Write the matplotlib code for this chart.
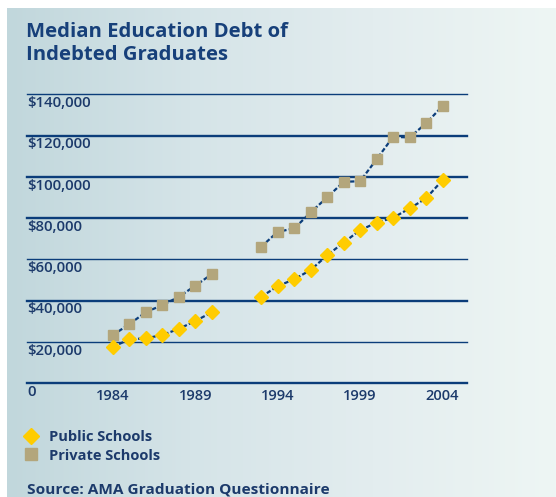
import numpy as np
import matplotlib
matplotlib.use("Agg")
import matplotlib.pyplot as plt
import matplotlib.transforms as mtransforms
from matplotlib.lines import Line2D
from matplotlib.colors import LinearSegmentedColormap

# ---- data ----
years = [1984, 1985, 1986, 1987, 1988, 1989, 1990, 1991, 1992,
         1993, 1994, 1995, 1996, 1997, 1998, 1999, 2000, 2001, 2002, 2003, 2004]
public = [17700, 21300, 21800, 23400, 26400, 30200, 34400, np.nan, np.nan,
          41900, 47100, 50400, 54900, 62000, 68200, 74200, 77800, 80200, 84700, 89600, 98400]
private = [23400, 28700, 34500, 37900, 41900, 47300, 52900, np.nan, np.nan,
           66200, 73400, 75000, 82800, 90100, 97600, 97900, 108500, 119400, 119100, 125900, 134300]
y_ticks = [0, 20000, 40000, 60000, 80000, 100000, 120000, 140000]
y_labels = ["0", "$20,000", "$40,000", "$60,000", "$80,000", "$100,000", "$120,000", "$140,000"]
x_ticks = [1984, 1989, 1994, 1999, 2004]
series_names = ["Public Schools", "Private Schools"]
title = "Median Education Debt of\nIndebted Graduates"
source = "Source: AMA Graduation Questionnaire"

# ---- style ----
W, H = 556, 497
NAVY = "#0b3d7a"
TEXT = "#1c3a6b"
TITLE = "#17407a"
GOLD = "#ffcc00"
KHAKI = "#b3a67c"
FONT = "Open Sans"

fig = plt.figure(figsize=(W / 100, H / 100), dpi=100)
fig.patch.set_facecolor("white")

# background gradient panel
bg = fig.add_axes([7 / W, 0, (W - 7) / W, (H - 8) / H], zorder=-10)
cmap = LinearSegmentedColormap.from_list("bg", ["#c1d7dc", "#d5e4e8", "#e3edef", "#eef6f4"])
grad = np.linspace(0, 1, 256).reshape(1, -1)
bg.imshow(grad, aspect="auto", cmap=cmap, extent=[0, 1, 0, 1])
bg.set_axis_off()

# main axes
left_px, right_px = 26.5, 467
y0_px, y140_px = 383.3, 94.3
ax = fig.add_axes([left_px / W, (H - y0_px) / H, (right_px - left_px) / W, (y0_px - y140_px) / H])
ax.patch.set_alpha(0)
ax.set_ylim(0, 140000)
px_per_year = (442.5 - 113) / 20
ax.set_xlim(1984 - (113 - left_px) / px_per_year, 2004 + (right_px - 442.5) / px_per_year)
for s in ax.spines.values():
    s.set_visible(False)

widths = [1.7, 1.0, 1.7, 1.0, 1.7, 1.7, 1.7, 1.0]
for v, lw in zip(y_ticks, widths):
    ax.axhline(v, color=NAVY, lw=lw, clip_on=False, zorder=1)

trans = mtransforms.blended_transform_factory(ax.transAxes, ax.transData)
off = mtransforms.ScaledTranslation(0.5 / 72, -1.2 / 72, fig.dpi_scale_trans)
for v, lab in zip(y_ticks, y_labels):
    ax.text(0.0, v, lab, transform=trans + off, ha="left", va="top",
            fontsize=10.8, fontweight="semibold", color=TEXT, family=FONT, zorder=2)

ax.set_yticks([])
ax.set_xticks(x_ticks)
ax.set_xticklabels([str(x) for x in x_ticks], fontsize=10.5, color=TEXT, family=FONT,
                   fontweight="semibold")
ax.tick_params(axis="x", length=0, pad=4)

ax.plot(years, private, color=NAVY, lw=1.6, ls=(0, (2, 1)), marker="s", ms=7.5,
        mfc=KHAKI, mec=KHAKI, zorder=3, clip_on=False)
ax.plot(years, public, color=NAVY, lw=1.6, ls=(0, (2, 1)), marker="D", ms=7.3,
        mfc=GOLD, mec=GOLD, zorder=4, clip_on=False)

# title
fig.text(26 / W, 1 - 43.5 / H, title, ha="left", va="center", fontsize=14.6,
         fontweight="bold", color=TITLE, family=FONT, linespacing=1.2)

# legend
handles = [Line2D([], [], ls="none", marker="D", ms=8.5, mfc=GOLD, mec=GOLD),
           Line2D([], [], ls="none", marker="s", ms=8, mfc=KHAKI, mec=KHAKI)]
leg = fig.legend(handles, series_names, loc="upper left", bbox_to_anchor=(24 / W, 1 - 430 / H),
                 frameon=False, handlelength=1.0, handletextpad=0.7, labelspacing=0.31,
                 borderpad=0, borderaxespad=0,
                 prop={"family": FONT, "weight": "bold", "size": 10.5})
for t in leg.get_texts():
    t.set_color(TEXT)

fig.text(27 / W, 1 - 490 / H, source, ha="left", va="center", fontsize=11.1,
         fontweight="bold", color=TEXT, family=FONT)

fig.savefig("out.png", dpi=100)
